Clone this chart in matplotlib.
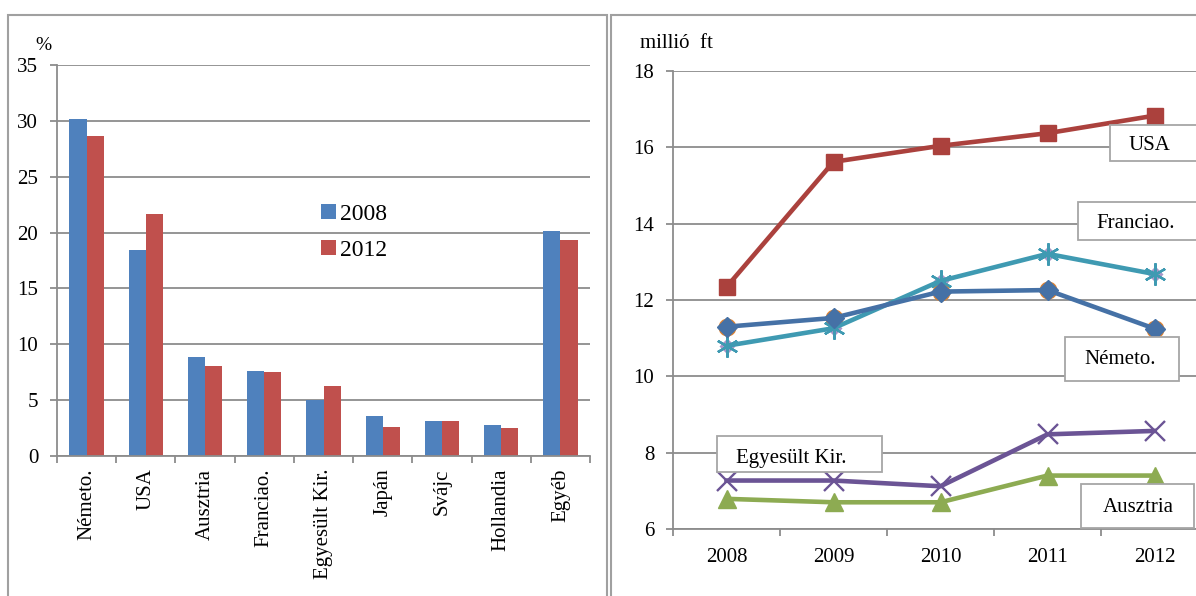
import numpy as np
import matplotlib
matplotlib.use("Agg")
import matplotlib.pyplot as plt
from matplotlib.patches import Rectangle

plt.rcParams["font.family"] = ["Liberation Serif", "DejaVu Serif"]

# ----------------------------
# Data
# ----------------------------
countries = ["Németo.", "USA", "Ausztria", "Franciao.", "Egyesült Kir.",
             "Japán", "Svájc", "Hollandia", "Egyéb"]
share_2008 = [30.2, 18.4, 8.9, 7.6, 5.0, 3.6, 3.1, 2.8, 20.1]
share_2012 = [28.6, 21.7, 8.1, 7.5, 6.3, 2.6, 3.1, 2.5, 19.3]

years = ["2008", "2009", "2010", "2011", "2012"]
usa = [12.34, 15.62, 16.04, 16.37, 16.83]
franciao = [10.80, 11.26, 12.50, 13.21, 12.68]
nemeto = [11.30, 11.53, 12.22, 12.26, 11.25]
egyesult = [7.27, 7.27, 7.12, 8.48, 8.57]
ausztria = [6.79, 6.70, 6.70, 7.40, 7.40]

W, H = 1196, 596
GRID = "#8c8c8c"


def fx(px):
    return px / W


def fy(py):
    return 1 - py / H


fig = plt.figure(figsize=(W / 100, H / 100), dpi=100)

# panel borders
fig.add_artist(Rectangle((fx(8), fy(640)), fx(599), fy(15) - fy(640),
                         transform=fig.transFigure, fill=False,
                         edgecolor="#a0a0a0", lw=1.5))
fig.add_artist(Rectangle((fx(611), fy(640)), fx(640), fy(15) - fy(640),
                         transform=fig.transFigure, fill=False,
                         edgecolor="#a0a0a0", lw=1.5))


def style_axes(ax):
    ax.set_facecolor("none")
    for s in ["top", "right"]:
        ax.spines[s].set_visible(False)
    for s in ["left", "bottom"]:
        ax.spines[s].set_color(GRID)
        ax.spines[s].set_linewidth(1.3)
    ax.yaxis.grid(True, color=GRID, lw=1.3)
    ax.set_axisbelow(True)
    ax.tick_params(axis="y", length=5, width=1.3, color=GRID, pad=8.5,
                   labelsize=15)
    ax.tick_params(axis="x", which="major", length=0, labelsize=15)
    ax.tick_params(axis="x", which="minor", length=5, width=1.3, color=GRID)


# ----------------------------
# 1. Bar chart
# ----------------------------
ax1 = fig.add_axes([fx(57), fy(456), fx(590) - fx(57), fy(65) - fy(456)])
style_axes(ax1)
x = np.arange(len(countries))
w = 0.29
ax1.bar(x - w / 2, share_2008, w, color="#4f81bd", label="2008")
ax1.bar(x + w / 2, share_2012, w, color="#c0504d", label="2012")
ax1.set_xlim(-0.5, len(countries) - 0.5)
ax1.set_ylim(0, 35)
ax1.set_yticks(range(0, 36, 5))
ax1.set_xticks(x)
ax1.set_xticklabels(countries, rotation=90)
ax1.set_xticks(np.arange(-0.5, len(countries)), minor=True)
ax1.tick_params(axis="x", which="major", pad=9)
leg = ax1.legend(loc="upper left", bbox_to_anchor=(0.496, 0.645),
                 frameon=False, fontsize=17, handlelength=0.6,
                 handleheight=0.6, handletextpad=0.2, labelspacing=0.65,
                 borderpad=0, borderaxespad=0)
fig.text(fx(43), fy(45), "%", ha="center", va="center", fontsize=14)

# ----------------------------
# 2. Line chart
# ----------------------------
ax2 = fig.add_axes([fx(673), fy(529), fx(1208) - fx(673), fy(71) - fy(529)])
style_axes(ax2)
xi = np.arange(len(years))
lw = 3.3
ax2.plot(xi, usa, color="#ab413d", lw=lw, marker="s", ms=12, zorder=5)
ax2.plot(xi, franciao, color="none", marker="D", ms=8,
         markerfacecolor="#a996c8", markeredgecolor="none", zorder=3)
ax2.plot(xi, franciao, color="#3f9ab2", lw=lw, marker=(6, 2, 0), ms=16,
         mew=1.7, zorder=4)
ax2.plot(xi, nemeto, color="none", marker="o", ms=13,
         markerfacecolor="#e3842f", markeredgecolor="none", zorder=3)
ax2.plot(xi, nemeto, color="#4571a6", lw=lw, marker="D", ms=10, zorder=4)
ax2.plot(xi, egyesult, color="#6b5495", lw=lw, marker="x", ms=14, mew=1.7,
         zorder=4)
ax2.plot(xi, ausztria, color="#8dab52", lw=lw, marker="^", ms=13, zorder=4)
ax2.set_xlim(-0.5, len(years) - 0.5)
ax2.set_ylim(6, 18)
ax2.set_yticks(range(6, 19, 2))
ax2.set_xticks(xi)
ax2.set_xticklabels(years)
ax2.set_xticks(np.arange(-0.5, len(years)), minor=True)
ax2.tick_params(axis="x", which="major", pad=14)
fig.text(fx(676), fy(43), "millió  ft", ha="center", va="center",
         fontsize=15)


# label boxes
def label_box(x0, y0, x1, y1, tx, ty, text):
    fig.add_artist(Rectangle((fx(x0), fy(y1)), fx(x1) - fx(x0),
                             fy(y0) - fy(y1), transform=fig.transFigure,
                             facecolor="white", edgecolor="#a6a6a6", lw=1.3,
                             zorder=10))
    fig.text(fx(tx), fy(ty), text, ha="center", va="center", fontsize=15,
             zorder=11)


label_box(1110, 125, 1200, 161, 1149, 146, "USA")
label_box(1078, 202, 1200, 240, 1136, 223, "Franciao.")
label_box(1065, 337, 1179, 381, 1120, 359, "Németo.")
label_box(717, 436, 882, 472, 791, 458, "Egyesült Kir.")
label_box(1081, 484, 1194, 528, 1138, 507, "Ausztria")

fig.savefig("out.png", dpi=100)
